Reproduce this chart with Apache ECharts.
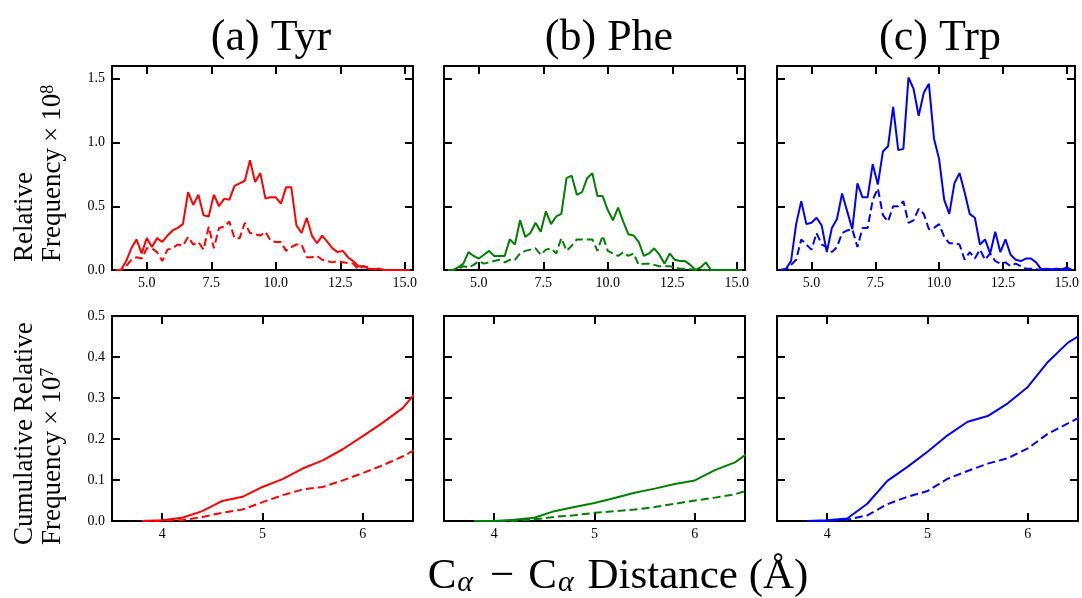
<!DOCTYPE html>
<html>
<head>
<meta charset="utf-8">
<script src="https://cdn.jsdelivr.net/npm/echarts@6/dist/echarts.min.js"></script>
<style>
html,body{margin:0;padding:0;background:#fff;}
#chart{width:1082px;height:598px;}
</style>
</head>
<body>
<div id="chart"></div>
<script>
// ---------- data ----------
const panelTitles = ['(a) Tyr', '(b) Phe', '(c) Trp'];
const panelColors = ['#ff0000', '#008000', '#0000ff'];

// distance bins for relative frequency (top row)
const distTop = [3.8, 4.0, 4.2, 4.4, 4.6, 4.8, 5.0, 5.2, 5.4, 5.6,
  5.8, 6.0, 6.2, 6.4, 6.6, 6.8, 7.0, 7.2, 7.4, 7.6,
  7.8, 8.0, 8.2, 8.4, 8.6, 8.8, 9.0, 9.2, 9.4, 9.6,
  9.8, 10.0, 10.2, 10.4, 10.6, 10.8, 11.0, 11.2, 11.4, 11.6,
  11.8, 12.0, 12.2, 12.4, 12.6, 12.8, 13.0, 13.2, 13.4, 13.6,
  13.8, 14.0, 14.2, 14.4, 14.6, 14.8, 15.0, 15.2];

const tyrSolid = [0, 0, 0.07, 0.17, 0.24, 0.13, 0.25, 0.18, 0.25, 0.22,
  0.27, 0.31, 0.33, 0.36, 0.61, 0.51, 0.59, 0.43, 0.42, 0.59,
  0.50, 0.56, 0.55, 0.66, 0.68, 0.70, 0.86, 0.69, 0.76, 0.56,
  0.57, 0.57, 0.52, 0.65, 0.65, 0.35, 0.29, 0.41, 0.27, 0.21,
  0.27, 0.22, 0.17, 0.14, 0.15, 0.10, 0.07, 0.03, 0.03, 0.01,
  0.005, 0.01, 0, 0, 0, 0, 0, 0];
const tyrDashed = [0, 0, 0.03, 0.08, 0.10, 0.09, 0.17, 0.17, 0.14, 0.07,
  0.16, 0.17, 0.20, 0.19, 0.26, 0.20, 0.22, 0.16, 0.34, 0.17,
  0.33, 0.34, 0.38, 0.25, 0.25, 0.37, 0.29, 0.28, 0.27, 0.30,
  0.23, 0.22, 0.22, 0.15, 0.18, 0.20, 0.20, 0.10, 0.10, 0.11,
  0.08, 0.07, 0.06, 0.07, 0.06, 0.055, 0.05, 0.005, 0.03, 0.02,
  0.005, 0.01, 0, 0, 0, 0, 0, 0];
const pheSolid = [0, 0, 0.02, 0.05, 0.14, 0.11, 0.09, 0.12, 0.15, 0.11,
  0.11, 0.11, 0.24, 0.20, 0.39, 0.26, 0.29, 0.37, 0.30, 0.46,
  0.36, 0.42, 0.44, 0.72, 0.74, 0.59, 0.61, 0.72, 0.76, 0.58,
  0.58, 0.47, 0.39, 0.49, 0.38, 0.28, 0.27, 0.22, 0.11, 0.13,
  0.17, 0.12, 0.05, 0.13, 0.08, 0.07, 0.07, 0.04, 0, 0.02,
  0.06, 0, 0, 0, 0, 0, 0, 0];
const pheDashed = [0, 0, 0.01, 0.03, 0.02, 0.04, 0.07, 0.05, 0.06, 0.07,
  0.08, 0.06, 0.08, 0.08, 0.13, 0.15, 0.16, 0.17, 0.12, 0.16,
  0.17, 0.13, 0.25, 0.15, 0.19, 0.24, 0.24, 0.24, 0.24, 0.15,
  0.27, 0.15, 0.13, 0.11, 0.14, 0.11, 0.13, 0.04, 0.05, 0.05,
  0.04, 0.03, 0.03, 0.03, 0.02, 0.01, 0.01, 0.005, 0, 0,
  0, 0, 0, 0, 0, 0, 0, 0];
const trpSolid = [0, 0.01, 0.07, 0.36, 0.54, 0.36, 0.37, 0.41, 0.35, 0.14,
  0.33, 0.40, 0.60, 0.46, 0.32, 0.68, 0.57, 0.57, 0.83, 0.67,
  0.93, 0.97, 1.28, 0.94, 0.95, 1.51, 1.42, 1.21, 1.39, 1.46,
  1.03, 0.87, 0.55, 0.44, 0.68, 0.76, 0.61, 0.44, 0.41, 0.20,
  0.24, 0.13, 0.30, 0.14, 0.24, 0.12, 0.08, 0.07, 0.09, 0.09,
  0.06, 0.005, 0.01, 0.005, 0.01, 0.005, 0.02, 0];
const trpDashed = [0, 0.005, 0.04, 0.08, 0.24, 0.20, 0.16, 0.29, 0.20, 0.18,
  0.14, 0.18, 0.29, 0.31, 0.32, 0.18, 0.33, 0.33, 0.55, 0.64,
  0.43, 0.38, 0.50, 0.50, 0.54, 0.37, 0.39, 0.48, 0.44, 0.32,
  0.33, 0.36, 0.26, 0.21, 0.21, 0.20, 0.08, 0.14, 0.09, 0.16,
  0.08, 0.13, 0.07, 0.05, 0.06, 0.03, 0.05, 0.03, 0.01, 0.01,
  0.005, 0, 0.01, 0, 0, 0, 0, 0];

// distances for cumulative relative frequency (bottom row)
const distBottom = [3.8, 4.0, 4.2, 4.4, 4.6, 4.8, 5.0, 5.2, 5.4, 5.6, 5.8, 6.0, 6.2, 6.4, 6.6];
const tyrCumSolid  = [0, 0.002, 0.008, 0.024, 0.049, 0.059, 0.083, 0.102, 0.128, 0.148, 0.175, 0.207, 0.240, 0.276, 0.335];
const tyrCumDashed = [0, 0, 0.002, 0.010, 0.020, 0.028, 0.046, 0.063, 0.077, 0.083, 0.099, 0.117, 0.136, 0.158, 0.184];
const pheCumSolid  = [0, 0, 0.003, 0.008, 0.024, 0.034, 0.044, 0.056, 0.069, 0.079, 0.090, 0.099, 0.124, 0.143, 0.178];
const pheCumDashed = [0, 0, 0, 0.004, 0.010, 0.014, 0.020, 0.024, 0.028, 0.034, 0.042, 0.050, 0.057, 0.065, 0.081];
const trpCumSolid  = [0, 0.002, 0.006, 0.042, 0.098, 0.132, 0.169, 0.209, 0.242, 0.256, 0.287, 0.327, 0.388, 0.435, 0.465];
const trpCumDashed = [0, 0, 0.003, 0.014, 0.041, 0.059, 0.073, 0.103, 0.122, 0.140, 0.153, 0.177, 0.213, 0.238, 0.264];

// tick labels
const topXTicks = [5, 7.5, 10, 12.5, 15];
const topYTicks = [0, 0.5, 1.0, 1.5];
const bottomXTicks = [4, 5, 6];
const bottomYTicks = [0, 0.1, 0.2, 0.3, 0.4, 0.5];

// ---------- build ----------
const FONT = "'Liberation Serif', 'Times New Roman', serif";
const topSeries = [[tyrSolid, tyrDashed], [pheSolid, pheDashed], [trpSolid, trpDashed]];
const bottomSeries = [[tyrCumSolid, tyrCumDashed], [pheCumSolid, pheCumDashed], [trpCumSolid, trpCumDashed]];

const lefts = [112, 444, 777];
const W = 301;
const grids = [], xAxes = [], yAxes = [], series = [];

function pairs(xs, ys) { return xs.map((x, i) => [x, ys[i]]); }

function addPanel(gi, left, top, height, xr, yr, xt, yt, showY, xfmt, yfmt, lines, color, xs) {
  grids.push({ left: left, top: top, width: W, height: height, containLabel: false });
  const line = { show: true, onZero: false, lineStyle: { color: '#000', width: 2 } };
  const tick = (vals) => ({ show: true, inside: true, length: 8, customValues: vals, lineStyle: { color: '#000', width: 2 } });
  ['bottom', 'top'].forEach(pos => {
    xAxes.push({
      type: 'value', gridIndex: gi, position: pos, min: xr[0], max: xr[1],
      axisLine: line, axisTick: tick(xt), splitLine: { show: false },
      axisLabel: pos === 'bottom' ? { show: true, customValues: xt, formatter: xfmt, fontFamily: FONT, fontSize: 14, color: '#000', margin: 6 } : { show: false }
    });
  });
  ['left', 'right'].forEach(pos => {
    yAxes.push({
      type: 'value', gridIndex: gi, position: pos, min: yr[0], max: yr[1],
      axisLine: line, axisTick: tick(yt), splitLine: { show: false },
      axisLabel: (pos === 'left' && showY) ? { show: true, customValues: yt, formatter: yfmt, fontFamily: FONT, fontSize: 14, color: '#000', margin: 7 } : { show: false }
    });
  });
  const xi = gi * 2, yi = gi * 2;
  series.push({ type: 'line', xAxisIndex: xi, yAxisIndex: yi, data: pairs(xs, lines[0]), showSymbol: false, clip: true,
    lineStyle: { color: color, width: 2, type: 'solid' }, itemStyle: { color: color } });
  series.push({ type: 'line', xAxisIndex: xi, yAxisIndex: yi, data: pairs(xs, lines[1]), showSymbol: false, clip: true,
    lineStyle: { color: color, width: 2, type: [8, 4] }, itemStyle: { color: color } });
}

const f1 = v => v.toFixed(1);
const f0 = v => String(Math.round(v));
for (let p = 0; p < 3; p++) {
  addPanel(p, lefts[p], 66, 204, [3.65, 15.32], [0, 1.6], topXTicks, topYTicks, p === 0, f1, f1, topSeries[p], panelColors[p], distTop);
}
for (let p = 0; p < 3; p++) {
  addPanel(3 + p, lefts[p], 316, 205, [3.5, 6.5], [0, 0.5], bottomXTicks, bottomYTicks, p === 0, f0, f1, bottomSeries[p], panelColors[p], distBottom);
}

const titleCenters = [271, 609, 940];
const graphics = panelTitles.map((t, i) => ({
  type: 'text', x: titleCenters[i], y: 38,
  style: { text: t, font: "44px " + FONT, fill: '#000', textAlign: 'center', textVerticalAlign: 'middle' }
}));

function yLabel(x, y, text) {
  return { type: 'text', x: x, y: y, rotation: Math.PI / 2,
    style: { text: text, fontFamily: FONT, fontSize: 27, fill: '#000', align: 'left', verticalAlign: 'bottom',
      rich: { sup: { fontFamily: FONT, fontSize: 18, verticalAlign: 'top', fill: '#000' },
              op: { fontFamily: FONT, fontSize: 27, padding: [0, 6, 0, 6], fill: '#000' } } } };
}
graphics.push(yLabel(38, 262, 'Relative'));
graphics.push(yLabel(66, 262, 'Frequency{op|×}10{sup|8}'));
graphics.push(yLabel(38, 545, 'Cumulative Relative'));
graphics.push(yLabel(66, 545, 'Frequency{op|×}10{sup|7}'));

graphics.push({ type: 'text', x: 618, y: 577,
  style: { text: 'C{sub|α}{op|−}C{sub|α} Distance (Å)', fontFamily: FONT, fontSize: 43, fill: '#000', align: 'center', verticalAlign: 'middle',
    rich: {
      sub: { fontFamily: FONT, fontSize: 30, fontStyle: 'italic', verticalAlign: 'bottom', fill: '#000', padding: [0, 3, 0, 1] },
      op: { fontFamily: FONT, fontSize: 43, padding: [0, 14, 0, 14], fill: '#000' }
    } } });

const chart = echarts.init(document.getElementById('chart'), null, { renderer: 'canvas' });
chart.setOption({
  animation: false,
  backgroundColor: '#fff',
  grid: grids, xAxis: xAxes, yAxis: yAxes, series: series,
  graphic: graphics
});
</script>
</body>
</html>
